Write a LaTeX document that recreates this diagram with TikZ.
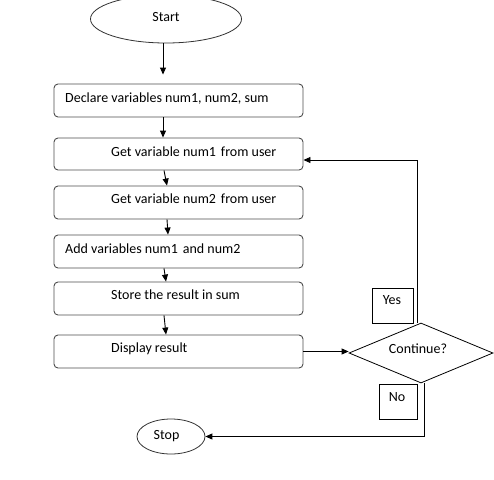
\documentclass[tikz,border=0pt]{standalone}
\usepackage{fontspec}
\setmainfont{Carlito}
\usetikzlibrary{shapes.geometric,arrows.meta}
\begin{document}
\begin{tikzpicture}[x=1pt,y=-1pt,
  box/.style={draw=black!70, line width=0.9pt, rounded corners=4pt, minimum width=249pt, minimum height=33pt, inner sep=0pt},
  txt/.style={inner sep=0pt, font=\fontsize{14}{16}\selectfont},
  term/.style={draw=black!80, line width=0.8pt, ellipse, inner sep=0pt},
  tag/.style={draw=black, line width=0.8pt, inner sep=0pt},
  arr/.style={draw=black, line width=0.9pt, -{Triangle[length=7pt,width=6pt]}}]
\useasboundingbox (0,0) rectangle (494,479);
\node[term, minimum width=151pt, minimum height=48pt] (start) at (166,19) {};
\node[txt] at (166,17) {Start};
\node[box] (b1) at (178.5,100.5) {};
\node[txt, anchor=west] at (65,99) {Declare variables num1, num2, sum};
\node[box, minimum height=32pt] (b2) at (178.5,154) {};
\node[txt, anchor=west] at (111,152) {Get variable num1\hspace{0.35em}from user};
\node[box] (b3) at (178.5,202.5) {};
\node[txt, anchor=west] at (111,199) {Get variable num2\hspace{0.35em}from user};
\node[box] (b4) at (178.5,251.5) {};
\node[txt, anchor=west] at (65,249) {Add variables num1\hspace{0.35em}and num2};
\node[box] (b5) at (178.5,298.5) {};
\node[txt, anchor=west] at (111,295) {Store the result in sum};
\node[box] (b6) at (178.5,351.5) {};
\node[txt, anchor=west] at (111,349) {Display result};
\node[draw=black, line width=0.8pt, diamond, minimum width=144pt, minimum height=60pt, inner sep=0pt] (d) at (421,353) {};
\node[txt] at (418,349) {Continue?};
\node[tag, minimum width=41pt, minimum height=35pt] (yes) at (392.5,305.5) {};
\node[txt] at (392,300) {Yes};
\node[tag, minimum width=38pt, minimum height=35pt] (no) at (398,401.5) {};
\node[txt] at (397,397) {No};
\node[term, minimum width=68pt, minimum height=35pt] (stop) at (171,436.5) {};
\node[txt] at (166.5,436) {Stop};
\draw[arr, shorten >=9pt] ([xshift=-3pt]start.south) -- ([xshift=-15.5pt]b1.north);
\draw[arr] ([xshift=-15.5pt]b1.south) -- ([xshift=-15.5pt]b2.north);
\draw[arr] ([xshift=-14.5pt]b2.south) -- ([xshift=-11.5pt]b3.north);
\draw[arr] ([xshift=-11.5pt]b3.south) -- ([xshift=-10.5pt]b4.north);
\draw[arr] ([xshift=-14.5pt]b4.south) -- ([xshift=-12.5pt]b5.north);
\draw[arr] ([xshift=-14.5pt]b5.south) -- ([xshift=-12.5pt]b6.north);
\draw[arr] (b6.east) -- (b6.east -| d.west);
\draw[arr] ([xshift=-4pt]d.north) |- ([yshift=-6pt]b2.east);
\draw[arr] ([xshift=3pt]d.south) |- (stop.east);
\end{tikzpicture}
\end{document}
